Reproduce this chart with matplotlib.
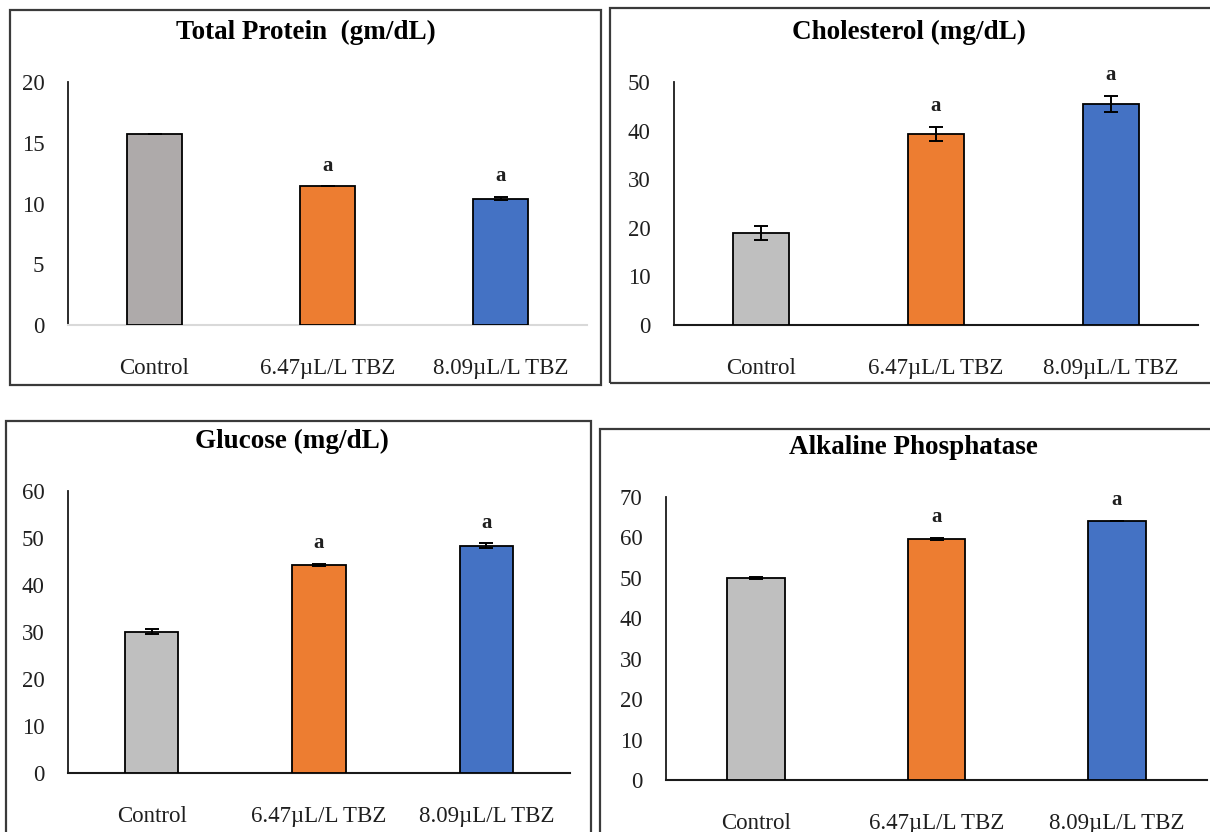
import matplotlib
matplotlib.use("Agg")
import matplotlib.pyplot as plt
from matplotlib.patches import Rectangle

plt.rcParams['font.family'] = ['Liberation Serif', 'DejaVu Serif']

W, H = 1210, 832

categories = ["Control", "6.47\u00b5L/L TBZ", "8.09\u00b5L/L TBZ"]
colors_tp = ["#AEAAAA", "#ED7D31", "#4472C4"]
colors_std = ["#BFBFBF", "#ED7D31", "#4472C4"]
sig_labels = ["", "a", "a"]

total_protein = [15.7, 11.4, 10.4]
total_protein_err = [0.0, 0.0, 0.12]

cholesterol = [18.9, 39.3, 45.5]
cholesterol_err = [1.5, 1.5, 1.6]

glucose = [30.1, 44.2, 48.4]
glucose_err = [0.6, 0.25, 0.45]

alk_phos = [50.0, 59.6, 64.1]
alk_phos_err = [0.3, 0.3, 0.0]

fig = plt.figure(figsize=(W / 100, H / 100), dpi=100)


def rect(x0, y0, x1, y1):
    return [x0 / W, 1 - y1 / H, (x1 - x0) / W, (y1 - y0) / H]


def frame(x0, y0, x1, y1):
    fig.add_artist(Rectangle((x0 / W, 1 - y1 / H), (x1 - x0) / W, (y1 - y0) / H,
                             transform=fig.transFigure, fill=False,
                             edgecolor="#3a3a3a", linewidth=1.6))


frame(10, 10, 601, 385)
frame(610, 8, 1240, 383)
frame(6, 421, 591, 860)
frame(600, 429, 1240, 860)


def panel(box, values, errs, cols, ymax, step, title, title_xy, xaxis_color):
    ax = fig.add_axes(rect(*box))
    x = list(range(len(categories)))
    ax.bar(x, values, width=0.32, color=cols, edgecolor="black", linewidth=1.3,
           yerr=errs, error_kw=dict(ecolor="black", elinewidth=1.4, capsize=5, capthick=1.4),
           zorder=3)
    ax.set_xlim(-0.5, len(categories) - 0.5)
    ax.set_ylim(0, ymax)
    ax.set_yticks(list(range(0, ymax + 1, step)))
    ax.set_xticks(x)
    ax.set_xticklabels(categories)
    for s in ["top", "right"]:
        ax.spines[s].set_visible(False)
    ax.spines["left"].set_color("#1a1a1a")
    ax.spines["left"].set_linewidth(1.3)
    ax.spines["bottom"].set_color(xaxis_color)
    ax.spines["bottom"].set_linewidth(1.5)
    ax.tick_params(axis="both", length=0, labelsize=16.5, colors="#1f1f1f")
    ax.tick_params(axis="x", pad=23.5)
    ax.tick_params(axis="y", pad=17)
    for xi, v, e, lab in zip(x, values, errs, sig_labels):
        if lab:
            ax.annotate(lab, (xi, v + e), xytext=(0, 15), textcoords="offset points",
                        ha="center", va="center", fontsize=15, fontweight="bold",
                        color="#1f1f1f")
    fig.text(title_xy[0] / W, 1 - title_xy[1] / H, title, ha="center", va="center",
             fontsize=19.5, fontweight="bold", color="black")
    return ax


panel((68, 82, 587, 325), total_protein, total_protein_err, colors_tp, 20, 5,
      "Total Protein  (gm/dL)", (306, 32), "#D9D9D9")
panel((674, 82, 1198, 325), cholesterol, cholesterol_err, colors_std, 50, 10,
      "Cholesterol (mg/dL)", (909, 32), "#1a1a1a")
panel((68, 491, 570, 773), glucose, glucose_err, colors_std, 60, 10,
      "Glucose (mg/dL)", (292, 441), "#1a1a1a")
panel((666, 497, 1207, 780), alk_phos, alk_phos_err, colors_std, 70, 10,
      "Alkaline Phosphatase", (913, 448), "#1a1a1a")

fig.savefig("out.png", dpi=100)
